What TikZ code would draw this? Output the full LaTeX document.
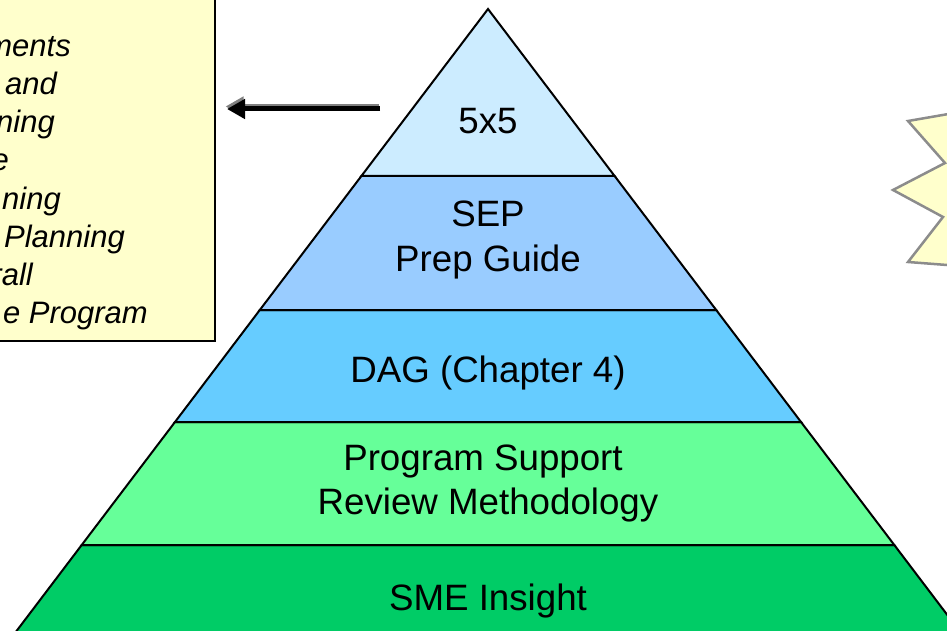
\documentclass[tikz,border=0pt]{standalone}
\usepackage{fontspec}
\setmainfont{Liberation Sans}
\usetikzlibrary{arrows.meta}
\definecolor{lay1}{HTML}{CCECFF}
\definecolor{lay2}{HTML}{99CCFF}
\definecolor{lay3}{HTML}{66CCFF}
\definecolor{lay4}{HTML}{66FF99}
\definecolor{lay5}{HTML}{00CC66}
\definecolor{notefill}{HTML}{FFFFCC}
\definecolor{burstline}{HTML}{8C8C8C}
\tikzset{
  layer/.style={draw=black, line width=2pt, line join=miter},
  laytext/.style={anchor=base, inner sep=0pt, font=\fontsize{36.7}{45}\selectfont},
  notetext/.style={anchor=base east, inner sep=0pt, font=\fontsize{31}{38}\selectfont\itshape},
}
\begin{document}
\begin{tikzpicture}[x=1pt,y=-1pt]
\useasboundingbox (0,0) rectangle (947,631);
\clip (0,0) rectangle (947,631);
% note box
\draw[fill=notefill, line width=2pt] (-10,-10) rectangle (215,341);
\node[notetext] (n1) at (71,57) {ments};
\node[notetext] (n2) at (57,95) {and};
\node[notetext] (n3) at (55,133) {ning};
\node[notetext] (n4) at (9,171) {e};
\node[notetext] (n5) at (61,209) {ning};
\node[notetext] (n6) at (125,247) {Planning};
\node[notetext] (n7) at (33,285) {rall};
\node[notetext] (n8) at (148,323) {e Program};
% arrow
\coordinate (ast) at (380,109);
\coordinate (aen) at (227,109);
\draw[gray, line width=5pt, -{Triangle[length=18pt,width=19pt]}] ([shift={(-1.5,-2.5)}]ast) -- ([shift={(-1.5,-2.5)}]aen);
\draw[black, line width=5pt, -{Triangle[length=18pt,width=19pt]}] (ast) -- (aen);
% burst
\draw[fill=notefill, draw=burstline, line width=2.5pt, line join=miter]
  (960,112) -- (908,121) -- (945,163) -- (893,190) -- (943,217) -- (908,262) -- (960,266);
% pyramid layers
\draw[layer, fill=lay5] (81.7,545) -- (894.3,545) -- (966.3,640) -- (9.7,640) -- cycle;
\draw[layer, fill=lay4] (175,422) -- (801,422) -- (894.3,545) -- (81.7,545) -- cycle;
\draw[layer, fill=lay3] (259.8,310) -- (716.2,310) -- (801,422) -- (175,422) -- cycle;
\draw[layer, fill=lay2] (361.4,176) -- (614.6,176) -- (716.2,310) -- (259.8,310) -- cycle;
\draw[layer, fill=lay1] (488,9) -- (614.6,176) -- (361.4,176) -- cycle;
% labels
\node[laytext] (t1) at (488,134) {5x5};
\node[laytext] (t2a) at (488,226) {SEP};
\node[laytext] (t2b) at (488,271) {Prep Guide};
\node[laytext] (t3) at (488,382) {DAG (Chapter 4)};
\node[laytext] (t4a) at (483,470) {Program Support};
\node[laytext] (t4b) at (488,514) {Review Methodology};
\node[laytext] (t5) at (488,610) {SME Insight};
\end{tikzpicture}
\end{document}
